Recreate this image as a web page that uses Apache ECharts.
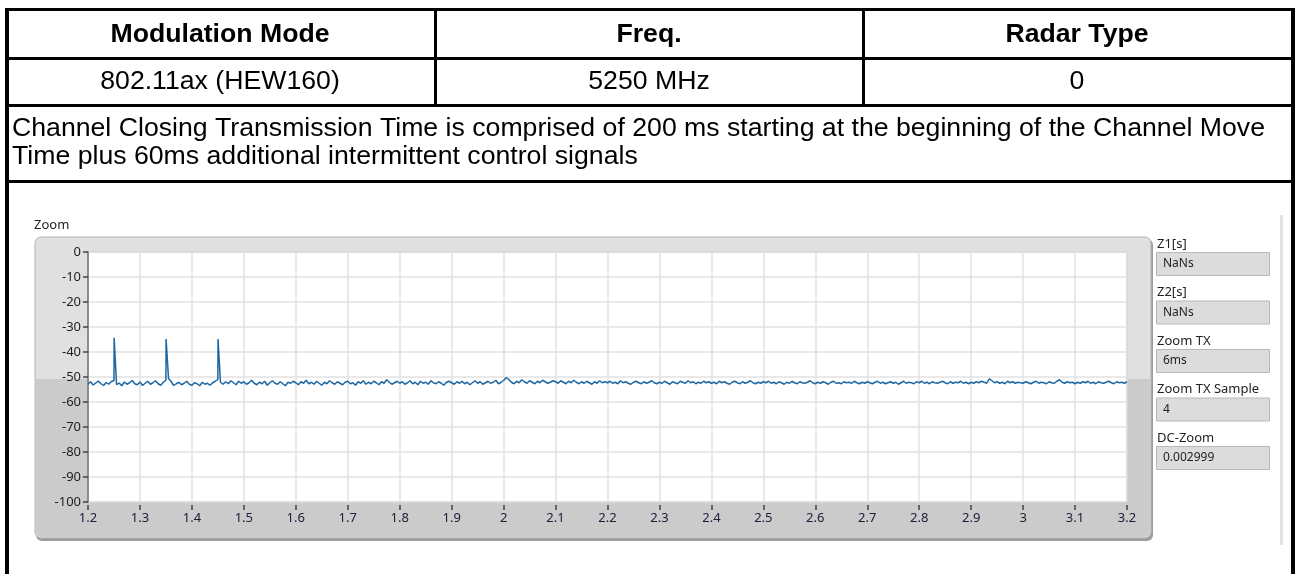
<!DOCTYPE html>
<html>
<head>
<meta charset="utf-8">
<script src="https://cdn.jsdelivr.net/npm/echarts@6/dist/echarts.min.js"></script>
<style>
  html, body { margin: 0; padding: 0; background: #fff; }
  #main { width: 1295px; height: 574px; }
</style>
</head>
<body>
<div id="main"></div>
<script>
// table contents
const headers = ['Modulation Mode', 'Freq.', 'Radar Type'];
const rowValues = ['802.11ax (HEW160)', '5250 MHz', '0'];
const noteLines = [
  'Channel Closing Transmission Time is comprised of 200 ms starting at the beginning of the Channel Move',
  'Time plus 60ms additional intermittent control signals'
];

// side panel of the LabVIEW graph
const panelLabels = ['Z1[s]', 'Z2[s]', 'Zoom TX', 'Zoom TX Sample', 'DC-Zoom'];
const panelValues = ['NaNs', 'NaNs', '6ms', '4', '0.002999'];

// trace: level (dB) every 5 ms from 1.2 s to 3.2 s
const traceStart = 1.2;
const traceStep = 0.005;
const traceLevels = [
  -52.9,-51.9,-53.2,-52.4,-51.6,-52.7,-53.4,-52.2,-52.9,-51.8,-51.5,-53.1,-52.4,-53.5,-52.0,-52.9,-52.3,-51.4,-52.7,-53.1,
  -52.0,-53.4,-52.5,-51.7,-52.9,-52.3,-51.5,-52.7,-53.3,-52.1,-51.3,-50.6,-51.8,-53.4,-52.7,-52.1,-53.1,-52.5,-51.7,-52.9,
  -53.3,-52.3,-52.7,-53.5,-52.1,-52.9,-52.5,-53.3,-52.3,-51.7,-51.0,-52.1,-52.9,-51.9,-52.7,-51.5,-52.3,-53.1,-51.7,-52.5,
  -51.9,-52.9,-52.3,-51.3,-52.5,-53.1,-52.1,-52.7,-51.7,-53.3,-52.3,-51.5,-52.5,-52.9,-51.9,-52.7,-53.5,-52.1,-52.5,-51.7,
  -52.3,-53.1,-51.9,-52.5,-51.3,-52.7,-52.1,-52.9,-51.7,-52.5,-53.3,-52.1,-52.7,-51.5,-52.3,-52.9,-51.9,-52.5,-53.1,-52.1,
  -51.7,-52.7,-52.3,-53.3,-51.9,-52.5,-51.5,-52.9,-52.1,-52.7,-51.7,-52.3,-53.1,-51.9,-52.5,-51.1,-52.1,-52.9,-52.3,-51.7,
  -52.5,-51.9,-52.9,-52.3,-51.5,-52.7,-52.1,-53.1,-51.7,-52.5,-52.1,-52.9,-51.5,-52.3,-52.7,-51.9,-52.5,-53.3,-52.1,-51.7,
  -52.3,-52.9,-51.9,-52.5,-51.7,-52.7,-52.1,-53.1,-52.3,-51.5,-52.5,-51.9,-52.9,-52.3,-51.7,-52.5,-52.1,-51.3,-52.7,-52.1,
  -51.4,-50.2,-51.0,-52.1,-52.7,-51.7,-52.3,-51.1,-51.9,-52.5,-51.5,-52.1,-52.7,-51.7,-52.3,-51.3,-51.9,-52.5,-52.1,-51.5,
  -51.9,-52.5,-51.5,-52.1,-52.7,-51.7,-52.3,-51.3,-52.1,-52.7,-51.9,-52.5,-51.7,-52.3,-52.9,-51.9,-52.5,-51.5,-52.3,-51.9,
  -52.3,-51.7,-52.5,-52.1,-52.7,-51.5,-52.3,-51.9,-52.5,-52.9,-52.1,-51.7,-52.3,-52.7,-51.9,-52.5,-52.1,-51.5,-52.3,-52.7,
  -52.1,-52.5,-51.7,-52.3,-52.9,-51.9,-52.3,-52.7,-51.7,-52.1,-52.5,-51.5,-52.3,-51.9,-52.7,-52.1,-52.5,-51.7,-52.3,-51.9,
  -52.5,-52.1,-52.7,-51.7,-52.3,-51.9,-52.5,-52.9,-52.1,-51.7,-52.3,-52.7,-51.9,-52.5,-52.1,-51.5,-52.3,-52.7,-52.1,-52.5,
  -51.9,-52.3,-51.7,-52.5,-52.1,-52.7,-51.9,-52.3,-52.9,-52.1,-52.5,-51.7,-52.3,-52.7,-51.9,-52.3,-52.5,-52.1,-51.5,-52.3,
  -52.7,-52.1,-52.5,-51.9,-52.3,-52.9,-52.1,-51.7,-52.5,-52.3,-52.7,-51.9,-52.3,-52.1,-52.5,-51.7,-52.3,-52.7,-52.1,-52.5,
  -51.9,-52.3,-52.7,-52.1,-51.7,-52.5,-52.1,-52.7,-52.3,-51.9,-52.5,-52.1,-52.9,-52.3,-51.7,-52.5,-52.1,-52.3,-52.7,-51.9,
  -52.3,-51.7,-52.5,-52.1,-52.7,-51.9,-52.3,-52.5,-52.1,-51.7,-52.3,-52.7,-51.9,-52.5,-52.1,-52.3,-51.7,-52.5,-52.1,-52.7,
  -52.1,-52.5,-51.9,-52.3,-51.7,-52.1,-52.5,-50.7,-51.5,-52.3,-51.9,-52.5,-52.1,-52.7,-51.7,-52.3,-51.9,-52.5,-52.1,-52.3,
  -52.5,-51.9,-52.3,-52.7,-52.1,-51.7,-52.5,-52.1,-52.3,-52.7,-51.9,-52.3,-52.5,-51.7,-51.1,-52.1,-52.5,-51.9,-52.3,-52.1,
  -52.7,-52.1,-52.5,-51.9,-52.3,-51.7,-52.5,-52.1,-52.7,-51.9,-52.3,-52.5,-52.1,-51.7,-52.3,-52.7,-51.9,-52.3,-52.1,-52.5,
  -51.9
];
// the three short bursts near the start [time s, level dB]
const bursts = [
  [1.2503, -34.3], [1.2513, -34.6],
  [1.3503, -34.8], [1.3513, -35.0],
  [1.4503, -34.8], [1.4513, -35.1]
];

const yTicks = { min: -100, max: 0, interval: 10 };
const xTicks = { min: 1.2, max: 3.2, interval: 0.1 };

let trace = traceLevels.map((v, i) => [+(traceStart + i * traceStep).toFixed(4), v]);
trace = trace.concat(bursts).sort((a, b) => a[0] - b[0]);

const tableFont = '"Liberation Sans", Arial, sans-serif';
const uiFont = '"Noto Sans", "Open Sans", sans-serif';

// black table rules
const rules = [
  [5, 8, 1290, 3],      // top
  [5, 8, 4, 566],       // left
  [1291, 8, 4, 566],    // right
  [5, 57, 1290, 3],
  [5, 104, 1290, 3],
  [5, 180, 1290, 3],
  [434, 8, 3, 99],
  [862, 8, 3, 99]
];
const colCenters = [220, 649, 1077];

let graphics = [];
rules.forEach(r => {
  graphics.push({ type: 'rect', shape: { x: r[0], y: r[1], width: r[2], height: r[3] }, style: { fill: '#000' }, z: 10 });
});
headers.forEach((h, i) => {
  graphics.push({ type: 'text', x: colCenters[i], y: 35, style: { text: h, fontFamily: tableFont, fontSize: 26.67, fontWeight: 'bold', fill: '#000', align: 'center', verticalAlign: 'middle' } });
});
rowValues.forEach((h, i) => {
  graphics.push({ type: 'text', x: colCenters[i], y: 82, style: { text: h, fontFamily: tableFont, fontSize: 26.67, fill: '#000', align: 'center', verticalAlign: 'middle' } });
});
noteLines.forEach((t, i) => {
  graphics.push({ type: 'text', x: 12, y: 129 + i * 28, style: { text: t, fontFamily: tableFont, fontSize: 26.67, fill: '#000', align: 'left', verticalAlign: 'middle' } });
});

// graph frame
graphics.push({ type: 'text', x: 34, y: 225, style: { text: 'Zoom', fontFamily: uiFont, fontSize: 13, fill: '#222', verticalAlign: 'middle' } });
graphics.push({ type: 'rect', shape: { x: 36, y: 239, width: 1117, height: 302, r: 6 }, style: { fill: '#9c9c9c' }, z: -3 });
graphics.push({ type: 'rect', shape: { x: 35, y: 237, width: 1116, height: 301, r: 6 }, style: { fill: '#e0e0e0', stroke: '#b4b4b4', lineWidth: 1 }, z: -2 });
graphics.push({ type: 'rect', shape: { x: 36, y: 379, width: 1114, height: 158, r: [0, 0, 5, 5] }, style: { fill: '#cbcbcb' }, z: -1 });

// side panel
panelLabels.forEach((lab, i) => {
  const top = 237 + i * 48.5;
  graphics.push({ type: 'text', x: 1157, y: top + 7, style: { text: lab, fontFamily: uiFont, fontSize: 13, fill: '#222', verticalAlign: 'middle' } });
  graphics.push({ type: 'rect', shape: { x: 1156.5, y: top + 15.5, width: 113, height: 23 }, style: { fill: '#dcdcdc', stroke: '#b8b8b8', lineWidth: 1 } });
  graphics.push({ type: 'text', x: 1163, y: top + 27, style: { text: panelValues[i], fontFamily: uiFont, fontSize: 12, fill: '#222', verticalAlign: 'middle' } });
});
graphics.push({ type: 'rect', shape: { x: 1280, y: 215, width: 3, height: 330 }, style: { fill: '#e2e2e2' } });

const chart = echarts.init(document.getElementById('main'));
chart.setOption({
  animation: false,
  backgroundColor: '#fff',
  graphic: graphics,
  grid: {
    left: 88, top: 252, width: 1039, height: 250,
    show: true, backgroundColor: '#fff', borderColor: '#a8a8a8', borderWidth: 1
  },
  xAxis: {
    type: 'value',
    min: xTicks.min, max: xTicks.max, interval: xTicks.interval,
    position: 'bottom',
    offset: 3,
    axisLine: { show: false, onZero: false },
    axisTick: { show: true, length: 5, lineStyle: { color: '#444', width: 1.5 } },
    axisLabel: {
      margin: 7, fontFamily: uiFont, fontSize: 13, color: '#20203a',
      formatter: v => String(+v.toFixed(1))
    },
    splitLine: { show: true, lineStyle: { color: '#e2e2e2', width: 1.5 } }
  },
  yAxis: {
    type: 'value',
    min: yTicks.min, max: yTicks.max, interval: yTicks.interval,
    axisLine: { show: true, onZero: false, lineStyle: { color: '#707070', width: 1.5 } },
    axisTick: { show: true, length: 5, lineStyle: { color: '#444', width: 1.5 } },
    axisLabel: { margin: 7, fontFamily: uiFont, fontSize: 13, color: '#1e1e1e' },
    splitLine: { show: true, lineStyle: { color: '#e2e2e2', width: 1.5 } }
  },
  series: [{
    type: 'line',
    data: trace,
    showSymbol: false,
    clip: true,
    lineStyle: { color: '#1d67a3', width: 1.5 },
    itemStyle: { color: '#1d67a3' }
  }]
});
</script>
</body>
</html>
